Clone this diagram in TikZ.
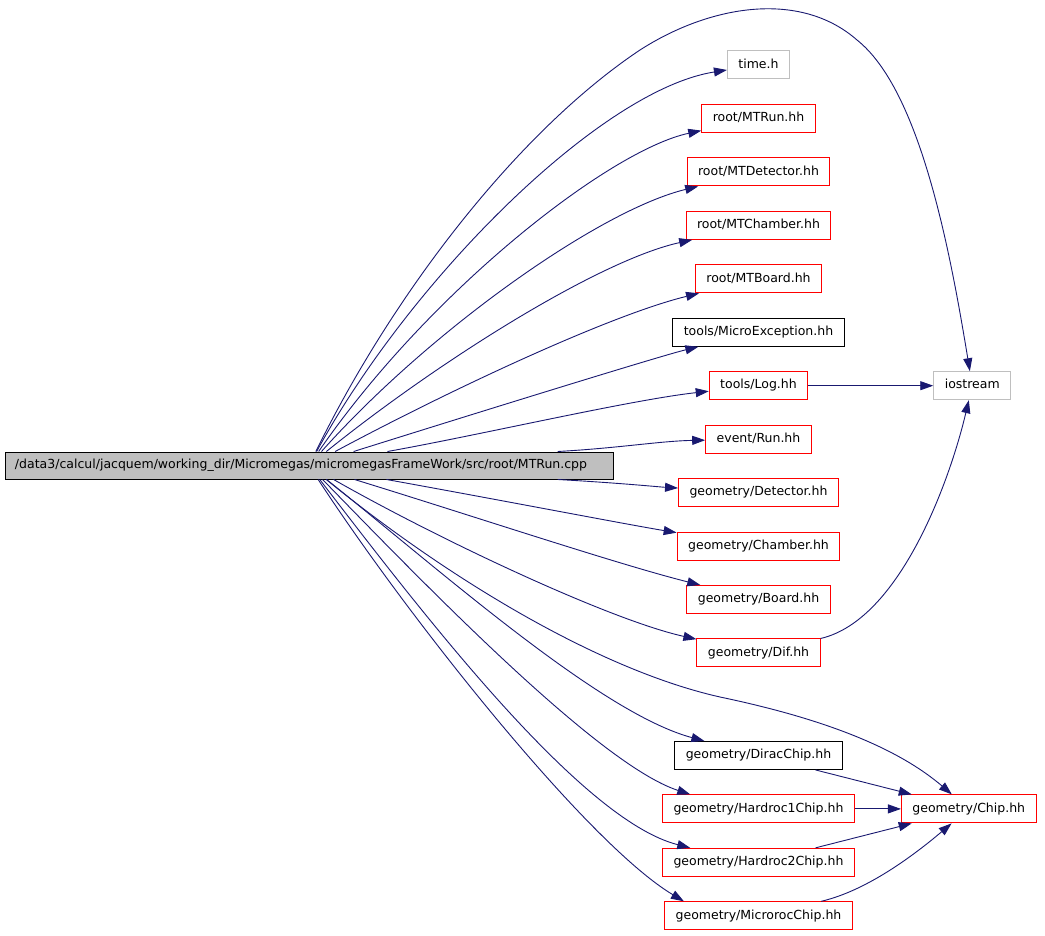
\documentclass[tikz,border=0pt]{standalone}
\usepackage{fontspec}
\setmainfont{DejaVu Sans}
\usetikzlibrary{positioning}
\usetikzlibrary{arrows.meta}

\definecolor{edgeblue}{HTML}{191970}
\definecolor{boxgray}{HTML}{BFBFBF}
\definecolor{boxred}{HTML}{FF0000}

\tikzset{
  file/.style={color=boxred, text=black, line width=1pt, minimum height=28pt, inner xsep=11pt,
    text height=9pt, text depth=2.5pt, font=\fontsize{12.5}{15}\selectfont, draw},
  sysfile/.style={file, draw=boxgray},
  plainfile/.style={file, draw=black},
  dep/.style={draw=edgeblue, line width=0.9pt, -{Triangle[length=13pt,width=9pt]}},
}

\begin{document}
\begin{tikzpicture}[x=1pt, y=-1pt, node distance=24.45pt]
\useasboundingbox (0,0) rectangle (1045,936);

\node (main) [plainfile, fill=boxgray, text width=588pt, inner xsep=10pt, align=left, minimum height=27pt] at (309,465.5) {/data3/calcul/jacquem/working\_dir/Micromegas/micromegasFrameWork/src/root/MTRun.cpp};

\node (time)     [sysfile] at (758.5,65) {time.h};
\node (mtrun)    [file, below=of time]     {root/MTRun.hh};
\node (mtdet)    [file, below=of mtrun]    {root/MTDetector.hh};
\node (mtcham)   [file, below=of mtdet]    {root/MTChamber.hh};
\node (mtboard)  [file, below=of mtcham]   {root/MTBoard.hh};
\node (microex)  [plainfile, below=of mtboard] {tools/MicroException.hh};
\node (log)      [file, below=of microex]  {tools/Log.hh};
\node (run)      [file, below=of log]      {event/Run.hh};
\node (detector) [file, below=of run]      {geometry/Detector.hh};
\node (chamber)  [file, below=of detector] {geometry/Chamber.hh};
\node (board)    [file, below=of chamber]  {geometry/Board.hh};
\node (dif)      [file, below=of board]    {geometry/Dif.hh};
\node (dirac)    [plainfile, below=73.5pt of dif] {geometry/DiracChip.hh};
\node (hrone)    [file, below=of dirac]    {geometry/Hardroc1Chip.hh};
\node (hrtwo)    [file, below=of hrone]    {geometry/Hardroc2Chip.hh};
\node (microroc) [file, below=of hrtwo]    {geometry/MicrorocChip.hh};

\node (iostream) [sysfile, right=125pt of log]  {iostream};
\node (chip)     [file, right=46pt of hrone]    {geometry/Chip.hh};

\draw[dep] (main) .. controls (395,290) and (520,130) .. (640,50)
  .. controls (710,5) and (800,-10) .. (857,40)
  .. controls (920,90) and (950,250) .. (iostream);
\draw[dep] (main) .. controls (410,280) and (600,90) .. (time);
\draw[dep] (main) .. controls (430,290) and (610,150) .. (mtrun);
\draw[dep] (main) .. controls (430,330) and (600,210) .. (mtdet);
\draw[dep] (main) .. controls (440,360) and (600,260) .. (mtcham);
\draw[dep] (main) .. controls (450,390) and (610,315) .. (mtboard);
\draw[dep] (main) .. controls (470,415) and (660,356) .. (microex);
\draw[dep] (main) .. controls (480,435) and (630,400) .. (log);
\draw[dep] (main) .. controls (620,448) and (660,441) .. (run);
\draw[dep] (main) .. controls (620,483) and (660,487) .. (detector);
\draw[dep] (main) .. controls (500,500) and (630,525) .. (chamber);
\draw[dep] (main) .. controls (470,515) and (620,565) .. (board);
\draw[dep] (main) .. controls (440,540) and (610,620) .. (dif);
\draw[dep] (main) .. controls (450,580) and (600,670) .. (720,697)
  .. controls (830,720) and (900,750) .. (chip);
\draw[dep] (main) .. controls (440,570) and (600,713) .. (dirac.165);
\draw[dep] (main) .. controls (430,590) and (600,765) .. (hrone.168);
\draw[dep] (main) .. controls (420,610) and (580,820) .. (hrtwo.168);
\draw[dep] (main) .. controls (410,620) and (588,844) .. (microroc.169);

\draw[dep] (log) -- (iostream);
\draw[dep] (dif) .. controls (900,620) and (950,480) .. (iostream);
\draw[dep] (dirac) -- (chip);
\draw[dep] (hrone) -- (chip);
\draw[dep] (hrtwo) -- (chip);
\draw[dep] (microroc) .. controls (870,890) and (920,850) .. (chip);
\end{tikzpicture}
\end{document}
